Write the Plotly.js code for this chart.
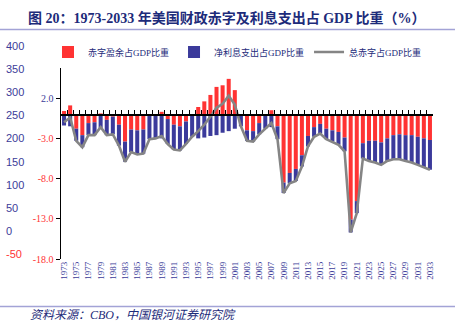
<!DOCTYPE html>
<html>
<head>
<meta charset="utf-8">
<script src="https://cdn.plot.ly/plotly-3.0.1.min.js"></script>
<style>html,body{margin:0;padding:0;background:#fff;}#chart{width:460px;height:329px;}</style>
</head>
<body>
<div id="chart"></div>
<script>
// ---- data (% of GDP) ----
const years = [1973,1974,1975,1976,1977,1978,1979,1980,1981,1982,1983,1984,1985,1986,1987,1988,1989,1990,1991,1992,1993,1994,1995,1996,1997,1998,1999,2000,2001,2002,2003,2004,2005,2006,2007,2008,2009,2010,2011,2012,2013,2014,2015,2016,2017,2018,2019,2020,2021,2022,2023,2024,2025,2026,2027,2028,2029,2030,2031,2032,2033];
// primary deficit / surplus (red)
const primaryBalance = [0.4,1.1,-1.8,-2.6,-1.1,-1.0,0.1,-0.7,-0.3,-1.3,-3.4,-1.9,-2.0,-1.9,-0.2,-0.1,0.3,-0.6,-1.3,-1.5,-0.9,-0.1,0.9,1.6,2.4,3.4,3.6,4.4,3.0,0.0,-2.0,-2.1,-1.1,-0.2,0.5,-1.5,-8.5,-7.3,-6.8,-5.1,-2.7,-1.6,-1.2,-1.8,-2.0,-2.2,-2.9,-13.1,-10.8,-3.6,-3.3,-3.3,-3.5,-3.0,-2.6,-2.5,-2.6,-2.6,-2.8,-3.0,-3.2];
// net interest outlays (blue, drawn as negative)
const netInterest = [-1.4,-1.5,-1.5,-1.5,-1.5,-1.6,-1.7,-1.9,-2.2,-2.6,-2.5,-2.8,-3.0,-3.0,-2.9,-2.9,-3.0,-3.1,-3.1,-3.0,-2.8,-2.7,-3.0,-2.9,-2.7,-2.6,-2.3,-2.1,-1.8,-1.5,-1.3,-1.3,-1.4,-1.6,-1.6,-1.6,-1.3,-1.3,-1.5,-1.4,-1.3,-1.2,-1.2,-1.3,-1.4,-1.6,-1.7,-1.6,-1.5,-1.9,-2.5,-2.7,-2.8,-2.8,-3.0,-3.1,-3.2,-3.4,-3.5,-3.6,-3.7];
// total deficit (gray line)
const totalBalance = [-1.0,-0.4,-3.3,-4.1,-2.6,-2.6,-1.6,-2.6,-2.5,-3.9,-5.9,-4.7,-5.0,-4.9,-3.1,-3.0,-2.7,-3.7,-4.4,-4.5,-3.7,-2.8,-2.1,-1.3,-0.3,0.8,1.3,2.3,1.2,-1.5,-3.3,-3.4,-2.5,-1.8,-1.1,-3.1,-9.8,-8.6,-8.3,-6.5,-4.0,-2.8,-2.4,-3.1,-3.4,-3.8,-4.6,-14.7,-12.3,-5.5,-5.8,-6.0,-6.3,-5.8,-5.6,-5.6,-5.8,-6.0,-6.3,-6.6,-6.9];
const seriesNames = ['赤字盈余占GDP比重','净利息支出占GDP比重','总赤字占GDP比重'];
const yTickVals = [2,-3,-8,-13,-18];
const yTickLabels = ['2.0','-3.0','-8.0','-13.0','-18.0'];
const ghostTickVals = [400,350,300,250,200,150,100,50,0,-50];
const ghostTickLabels = ['400','350','300','250','200','150','100','50','0','-50'];
const xTickYears = years.filter((y,i)=> i%2===0);
const titleText = '图 20：1973-2033 年美国财政赤字及利息支出占 GDP 比重（%）';
const sourceText = '资料来源：CBO，中国银河证券研究院';

// ---- styling ----
const RED = '#ff3333', BLUE = '#3b3a9b', GRAY = '#858585', NAVY = '#1d2b7a', TICKBLUE = '#3c3c99';
const SERIF = '"Liberation Serif","Times New Roman","Noto Sans CJK SC",serif';
const yMin = -18, yMax = 5.75;
const yDomTop = 191/219;
const zeroPos = (0 - yMin) / (yMax - yMin) * yDomTop;

const colorLabel = (t, v) => '<span style="color:' + (v < 0 ? RED : TICKBLUE) + '">' + t + '</span>';

const traces = [
  {type:'bar', name:seriesNames[0], x:years, y:primaryBalance, marker:{color:RED}, xaxis:'x', yaxis:'y'},
  {type:'bar', name:seriesNames[1], x:years, y:netInterest, marker:{color:BLUE}, xaxis:'x', yaxis:'y'},
  {type:'scatter', mode:'lines', name:seriesNames[2], x:years, y:totalBalance, line:{color:GRAY, width:2.6}, xaxis:'x', yaxis:'y'},
  {type:'scatter', mode:'markers', x:[], y:[], showlegend:false, xaxis:'x', yaxis:'y3', hoverinfo:'skip'},
  {type:'scatter', mode:'markers', x:[], y:[], showlegend:false, xaxis:'x2', yaxis:'y', hoverinfo:'skip'}
];

const xDomStart = (61-5)/428;
const layout = {
  width:460, height:329,
  margin:{l:5, r:27, t:40, b:70, pad:0},
  paper_bgcolor:'#ffffff', plot_bgcolor:'rgba(0,0,0,0)',
  barmode:'relative', bargap:0.34,
  showlegend:true,
  title:{text:titleText, x:28/460, xanchor:'left', xref:'container', y:1-18/329, yanchor:'middle', yref:'container',
         font:{family:SERIF, size:14, color:NAVY, weight:'bold'}},
  legend:{orientation:'h', x:(48-5)/428, xanchor:'left', y:1+(40-52)/219, yanchor:'middle',
          font:{family:SERIF, size:9, color:NAVY}, bgcolor:'rgba(0,0,0,0)', traceorder:'normal', itemwidth:30},
  xaxis:{domain:[xDomStart,1], range:[1972.5,2033.5], anchor:'y', showline:false, showgrid:false, zeroline:false,
         ticks:'', tickmode:'array', tickvals:xTickYears, ticktext:xTickYears.map(String), tickangle:-90,
         tickfont:{family:SERIF, size:9, color:TICKBLUE}},
  xaxis2:{overlaying:'x', anchor:'free', position:zeroPos, range:[1972.5,2033.5], showline:true, linecolor:'#000', linewidth:1.5,
          ticks:'inside', ticklen:4, tickwidth:1, tickcolor:'#000', tickmode:'linear', tick0:1972.5, dtick:1,
          showticklabels:false, showgrid:false, zeroline:false},
  yaxis:{domain:[0,yDomTop], range:[yMin,yMax], anchor:'x', showline:true, linecolor:'#000', linewidth:1.5,
         ticks:'outside', ticklen:4, tickcolor:'#000', showgrid:false, zeroline:false,
         tickmode:'array', tickvals:yTickVals, ticktext:yTickLabels.map((t,i)=>colorLabel(t,yTickVals[i])),
         tickfont:{family:SERIF, size:10, color:TICKBLUE}},
  yaxis3:{domain:[0,1], range:[-60.6,413.4], anchor:'free', position:0, side:'right', showline:false, ticks:'', showgrid:false, zeroline:false,
          tickmode:'array', tickvals:ghostTickVals, ticktext:ghostTickLabels.map((t,i)=>colorLabel(t,ghostTickVals[i])),
          tickfont:{family:'"Liberation Sans",Arial,sans-serif', size:11, color:'#4d4da6'}},
  shapes:[
    {type:'line', xref:'paper', yref:'paper', x0:-5/428, x1:450/428, y0:1+(40-29.5)/219, y1:1+(40-29.5)/219, line:{color:'#a3a3d6', width:1.5}},
    {type:'line', xref:'paper', yref:'paper', x0:-5/428, x1:450/428, y0:(259-306.5)/219, y1:(259-306.5)/219, line:{color:'#a3a3d6', width:1.5}}
  ],
  annotations:[
    {text:'<i>'+sourceText+'</i>', xref:'paper', yref:'paper', x:(28-5)/428, xanchor:'left', y:(259-315)/219, yanchor:'middle',
     showarrow:false, font:{family:SERIF, size:12, color:NAVY}}
  ]
};

Plotly.newPlot('chart', traces, layout, {staticPlot:true, displayModeBar:false});
</script>
</body>
</html>
